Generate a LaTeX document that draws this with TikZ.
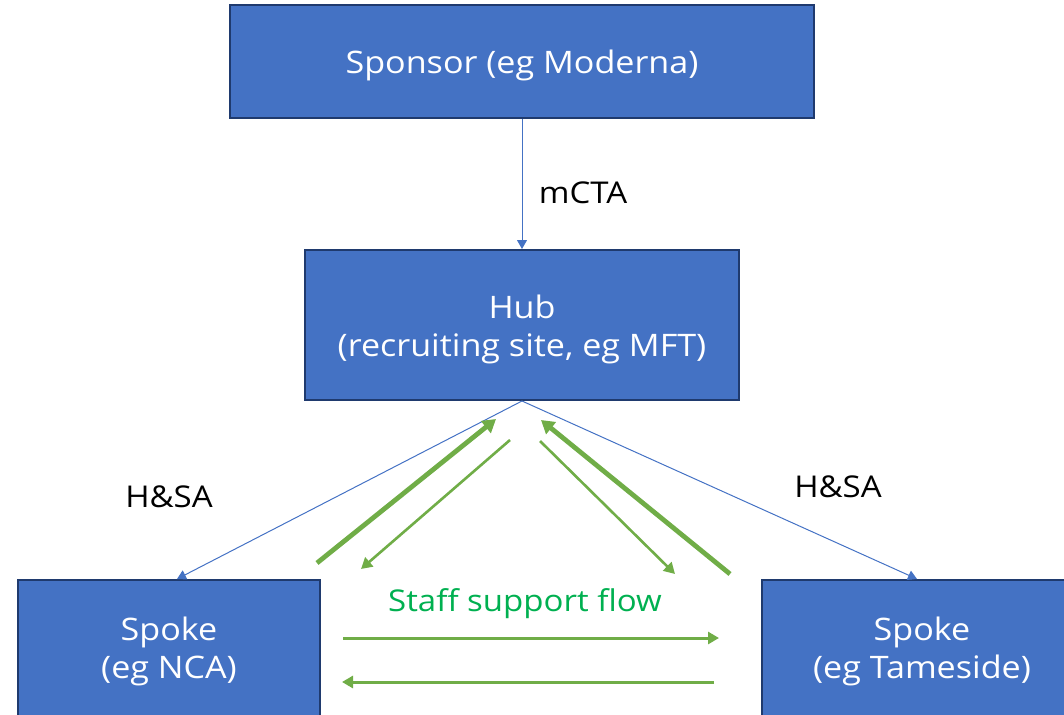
\documentclass[tikz,border=0pt]{standalone}
\usepackage{fontspec}
\setmainfont{Open Sans}
\newfontfamily\widefont[FakeStretch=1.1]{Open Sans}
\usetikzlibrary{arrows.meta}
\definecolor{boxblue}{HTML}{4472C4}
\definecolor{boxedge}{HTML}{1F3A6E}
\definecolor{flowgreen}{HTML}{70AD47}
\definecolor{labelgreen}{HTML}{00B050}
\tikzset{
  box/.style={draw=boxedge, line width=2pt, fill=boxblue, inner sep=0pt},
  boxtext/.style={text=white, align=center, font=\widefont\fontsize{31}{38}\selectfont, inner sep=0pt},
  lbl/.style={text=black, font=\widefont\fontsize{30}{32}\selectfont, inner sep=0pt},
  blueline/.style={draw=boxblue, line width=1pt, -{Triangle[width=10pt,length=9pt]}},
  thickflow/.style={draw=flowgreen, line width=4.8pt, -{Triangle[width=15pt,length=13pt]}},
  thinflow/.style={draw=flowgreen, line width=2.6pt, -{Triangle[width=12pt,length=11pt]}},
  hflow/.style={draw=flowgreen, line width=3pt, -{Triangle[width=12pt,length=11pt]}}
}
\begin{document}
\begin{tikzpicture}[x=1pt,y=-1pt]
\useasboundingbox (0,0) rectangle (1064,714);
\clip (0,0) rectangle (1064,714);
\node[box, minimum width=584pt, minimum height=113pt] (sponsor) at (522,61.5) {};
\node[box, minimum width=434pt, minimum height=150pt] (hub) at (522,325) {};
\node[box, minimum width=302pt, minimum height=136pt] (spokeL) at (169,648) {};
\node[box, minimum width=320pt, minimum height=136pt] (spokeR) at (922,648) {};
\node[boxtext] (sponsorT) at ([yshift=-4pt]sponsor.center) {Sponsor (eg Moderna)};
\node[boxtext] (hubT) at ([yshift=-4pt]hub.center) {Hub\\(recruiting site, eg MFT)};
\node[boxtext] (spokeLT) at ([yshift=-3pt]spokeL.center) {Spoke\\(eg NCA)};
\node[boxtext] (spokeRT) at ([yshift=-3pt]spokeR.center) {Spoke\\(eg Tameside)};

\draw[blueline] (sponsor.south) -- (hub.north);
\coordinate (hubtip) at (522,401);
\coordinate (lt) at (177,579);
\coordinate (rt) at (917,579);
\draw[blueline] (hubtip) -- (lt);
\draw[blueline] (hubtip) -- (rt);

\node[lbl] (mcta) at (583,193) {mCTA};
\node[lbl] (hsaL) at (169,497) {H\&SA};
\node[lbl] (hsaR) at (838,487) {H\&SA};
\node[text=labelgreen, font=\widefont\fontsize{30}{32}\selectfont, inner sep=0pt] (flow) at (525,604) {Staff support flow};

\coordinate (a1s) at (317,563); \coordinate (a1e) at (496,419);
\coordinate (a2s) at (510,440); \coordinate (a2e) at (361,569);
\coordinate (a3s) at (540,441); \coordinate (a3e) at (675,574);
\coordinate (a4s) at (730,574); \coordinate (a4e) at (541,420);
\draw[thickflow] (a1s) -- (a1e);
\draw[thinflow] (a2s) -- (a2e);
\draw[thinflow] (a3s) -- (a3e);
\draw[thickflow] (a4s) -- (a4e);

\coordinate (h1s) at (343,638); \coordinate (h1e) at (719,638);
\coordinate (h2s) at (714,682); \coordinate (h2e) at (342,682);
\draw[hflow] (h1s) -- (h1e);
\draw[hflow] (h2s) -- (h2e);
\end{tikzpicture}
\end{document}
